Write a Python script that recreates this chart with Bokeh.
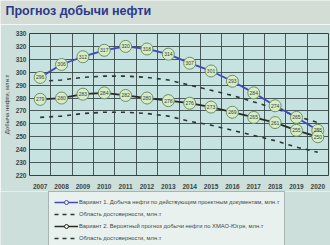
from bokeh.plotting import figure
from bokeh.layouts import column
from bokeh.models import Range1d, FixedTicker, Legend, LegendItem, Label
from bokeh.core.properties import value
from bokeh.embed import file_html
from bokeh.resources import INLINE

years = [2007, 2008, 2009, 2010, 2011, 2012, 2013, 2014, 2015, 2016, 2017, 2018, 2019, 2020]
variant1 = [296, 306, 312, 317, 320, 318, 314, 307, 301, 293, 284, 274, 265, 255]
variant2 = [279, 280, 283, 284, 282, 280, 278, 276, 273, 269, 265, 261, 255, 250]
conf_upper = [293, 294, 296, 297, 297, 296, 294, 290, 286, 282, 277, 272, 266, 261]
conf_lower = [265, 266, 268, 269, 269, 268, 266, 262, 259, 255, 251, 247, 242, 238]
y_ticks = [220, 230, 240, 250, 260, 270, 280, 290, 300, 310, 320, 330]

title_text = "Прогноз добычи нефти"
y_label = "Добыча нефти, млн.т"
legend_labels = [
    "Вариант 1. Добыча нефти по действующим проектным документам, млн.т",
    "Область достоверности, млн.т",
    "Вариант 2. Вероятный прогноз добычи нефти по ХМАО-Югре, млн.т",
    "Область достоверности, млн.т",
]

FONT = "Liberation Sans"
GRID = "#33413f"
BLUE = "#4248bc"
DARK = "#2b2a24"
DOT = "#2e3533"
MK_FILL = "#d6ecc4"
MK_LINE = "#6f8f6a"
BORDER_BG = "#cddfdb"
HEAD_BG = "#d3ddd6"


def blank(height):
    f = figure(width=330, height=height, output_backend="svg", toolbar_location=None,
               x_axis_location=None, y_axis_location=None, frame_align=False,
               min_border_left=0, min_border_right=0, min_border_top=0, min_border_bottom=0)
    f.outline_line_color = None
    f.grid.visible = False
    return f


# ---- header with title ----
h = blank(24)
h.background_fill_color = HEAD_BG
h.border_fill_color = HEAD_BG
h.add_layout(Label(x=5, y=14, x_units="screen", y_units="screen", text=title_text,
                   text_font=FONT, text_font_size="12.5px", text_font_style="bold",
                   text_color="#2b3a8c", text_baseline="middle"))

# ---- main chart ----
p = figure(width=330, height=167, output_backend="svg", toolbar_location=None,
           x_range=Range1d(years[0] - 0.5, years[-1] + 0.5),
           y_range=Range1d(y_ticks[0], y_ticks[-1]), frame_align=False,
           min_border_left=29, min_border_right=2, min_border_top=9, min_border_bottom=14)
p.background_fill_color = "#c6e3e1"
p.border_fill_color = BORDER_BG
p.outline_line_color = GRID
p.outline_line_width = 1

p.xgrid.ticker = FixedTicker(ticks=[y - 0.5 for y in years] + [years[-1] + 0.5])
p.ygrid.ticker = FixedTicker(ticks=y_ticks)
for g in (p.xgrid, p.ygrid):
    g.grid_line_color = GRID
    g.grid_line_width = 1
    g.grid_line_alpha = 0.85

p.xaxis.ticker = FixedTicker(ticks=years)
p.xaxis.major_label_overrides = {y: str(y) for y in years}
p.yaxis.ticker = FixedTicker(ticks=y_ticks)
for ax in (p.xaxis, p.yaxis):
    ax.axis_line_color = None
    ax.major_tick_line_color = None
    ax.minor_tick_line_color = None
    ax.major_tick_out = 0
    ax.major_tick_in = 0
    ax.minor_tick_out = 0
    ax.minor_tick_in = 0
    ax.major_label_text_font = FONT
    ax.major_label_text_font_size = "6.5px"
    ax.major_label_text_color = "#3a4442"
    ax.major_label_text_font_style = "bold"
p.xaxis.major_label_standoff = 8
p.yaxis.major_label_standoff = 3
p.yaxis.axis_label = y_label
p.yaxis.axis_label_text_font = FONT
p.yaxis.axis_label_text_font_size = "6px"
p.yaxis.axis_label_text_font_style = "normal"
p.yaxis.axis_label_text_color = "#3a4442"
p.yaxis.axis_label_standoff = 3

p.line(years, conf_upper, line_color=DOT, line_width=1.6, line_dash="4 5")
p.line(years, conf_lower, line_color=DOT, line_width=1.6, line_dash="4 5")

p.line(years, variant1, line_color=BLUE, line_width=1.8)
p.line(years, variant2, line_color=DARK, line_width=1.8)
p.scatter(years, variant1, size=12, fill_color=MK_FILL, line_color=MK_LINE, line_width=1)
p.scatter(years, variant2, size=12, fill_color=MK_FILL, line_color=MK_LINE, line_width=1)
p.text(years, variant1, text=[str(v) for v in variant1], text_align="center", text_baseline="middle",
       text_font=value(FONT), text_font_size="5px", text_color="#3a4038")
p.text(years, variant2, text=[str(v) for v in variant2], text_align="center", text_baseline="middle",
       text_font=value(FONT), text_font_size="5px", text_color="#3a4038")

# ---- legend panel ----
q = blank(54)
q.background_fill_color = BORDER_BG
q.border_fill_color = BORDER_BG
nan = float("nan")
l1 = q.line([0, 1], [nan, nan], line_color=BLUE, line_width=1.5)
k1 = q.scatter([0], [nan], size=5, fill_color="#e8f0f0", line_color=BLUE, line_width=1)
l2 = q.line([0, 1], [nan, nan], line_color=DOT, line_width=1.4, line_dash="4 4")
l3 = q.line([0, 1], [nan, nan], line_color=DARK, line_width=1.5)
k3 = q.scatter([0], [nan], size=5, fill_color="#e8f0f0", line_color=DARK, line_width=1)
l4 = q.line([0, 1], [nan, nan], line_color=DOT, line_width=1.4, line_dash="4 4")

legend = Legend(items=[
    LegendItem(label=value(legend_labels[0]), renderers=[l1, k1]),
    LegendItem(label=value(legend_labels[1]), renderers=[l2]),
    LegendItem(label=value(legend_labels[2]), renderers=[l3, k3]),
    LegendItem(label=value(legend_labels[3]), renderers=[l4]),
], location=(48, -4))
legend.label_text_font = FONT
legend.label_text_font_size = "5.8px"
legend.label_text_color = "#3c4846"
legend.glyph_width = 24
legend.glyph_height = 10
legend.label_height = 10
legend.label_standoff = 1
legend.spacing = 2
legend.padding = 5
legend.margin = 0
legend.background_fill_color = "#e9f1ef"
legend.background_fill_alpha = 1
legend.border_line_color = "#6a7875"
legend.border_line_width = 1
q.add_layout(legend)

layout = column(h, p, q, spacing=0)
open("out.html", "w").write(file_html(layout, INLINE))
